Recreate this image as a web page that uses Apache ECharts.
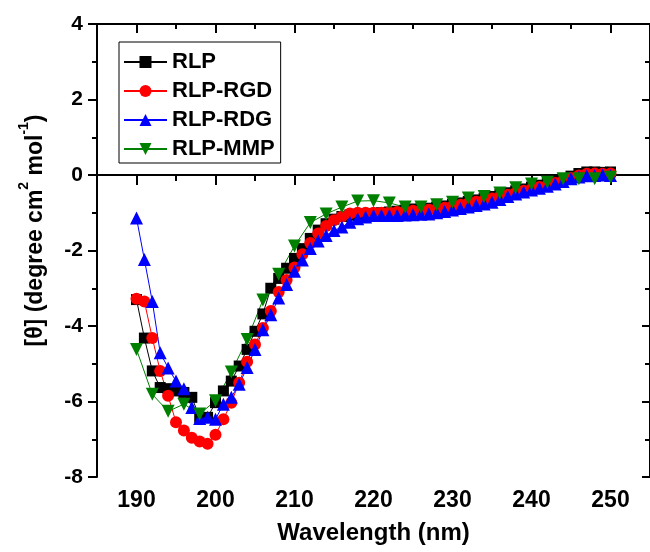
<!DOCTYPE html>
<html>
<head>
<meta charset="utf-8">
<script src="https://cdn.jsdelivr.net/npm/echarts@6/dist/echarts.min.js"></script>
<style>
html,body{margin:0;padding:0;background:#fff;overflow:hidden;}
#chart{width:650px;height:552px;}
</style>
</head>
<body>
<div id="chart"></div>
<script>
// ---- data ----
const wl1 = [190,191,192,193,194,195,196,197,198,199,200,201,202,203,204,205,206,207,208,209,210,211,212,213,214,215,216,217,218,219,220,221,222,223,224,225,226,227,228,229,230,231,232,233,234,235,236,237,238,239,240,241,242,243,244,245,246,247,248,249,250];
const wl2 = [190,192,194,196,198,200,202,204,206,208,210,212,214,216,218,220,222,224,226,228,230,232,234,236,238,240,242,244,246,248,250];
const rlp = [-3.30,-4.32,-5.19,-5.63,-5.66,-5.72,-5.76,-5.89,-6.42,-6.42,
  -6.03,-5.72,-5.46,-5.06,-4.62,-4.14,-3.68,-3.00,-2.74,-2.47,
  -2.21,-1.95,-1.68,-1.46,-1.29,-1.17,-1.10,-1.06,-1.04,-1.03,
  -1.02,-1.00,-0.98,-0.96,-0.93,-0.90,-0.90,-0.88,-0.85,-0.82,
  -0.78,-0.74,-0.70,-0.66,-0.62,-0.57,-0.52,-0.47,-0.42,-0.37,
  -0.32,-0.27,-0.22,-0.16,-0.10,-0.03,0.04,0.08,0.08,0.07,0.08];
const rgd = [-3.28,-3.35,-4.32,-5.19,-5.85,-6.55,-6.77,-6.96,-7.06,-7.12,
  -6.88,-6.47,-6.03,-5.50,-4.95,-4.49,-4.05,-3.60,-3.10,-2.78,
  -2.45,-2.10,-1.80,-1.55,-1.35,-1.20,-1.10,-1.02,-1.00,-1.00,
  -1.00,-1.00,-0.99,-0.98,-0.96,-0.95,-0.94,-0.92,-0.90,-0.87,
  -0.83,-0.79,-0.75,-0.71,-0.67,-0.62,-0.57,-0.52,-0.47,-0.42,
  -0.37,-0.32,-0.27,-0.21,-0.15,-0.08,-0.01,0.03,0.04,0.03,0.04];
const rdg = [-1.14,-2.24,-3.35,-4.71,-5.11,-5.46,-5.66,-6.16,-6.45,-6.42,
  -6.47,-6.07,-5.89,-5.54,-5.10,-4.62,-4.10,-3.70,-3.26,-2.90,
  -2.55,-2.25,-1.95,-1.75,-1.60,-1.47,-1.38,-1.25,-1.16,-1.11,
  -1.07,-1.07,-1.07,-1.07,-1.06,-1.05,-1.04,-1.03,-1.00,-0.97,
  -0.93,-0.89,-0.85,-0.81,-0.77,-0.72,-0.65,-0.57,-0.50,-0.45,
  -0.40,-0.35,-0.30,-0.24,-0.17,-0.10,-0.05,-0.02,-0.01,0.00,-0.01];
const mmp = [-4.62,-5.81,-6.26,-6.07,-6.33,-5.98,-5.22,-4.36,-3.31,-2.63,
  -1.88,-1.26,-1.03,-0.85,-0.69,-0.68,-0.74,-0.85,-0.85,-0.79,
  -0.72,-0.61,-0.57,-0.48,-0.34,-0.24,-0.19,-0.10,-0.10,-0.10,-0.06];
const seriesNames = ['RLP','RLP-RGD','RLP-RDG','RLP-MMP'];
const xMajorTicks = [190,200,210,220,230,240,250];
const xMinorTicks = [185,195,205,215,225,235,245,255];

// ---- chart ----
const FONT = '"Liberation Sans", Arial, Helvetica, sans-serif';
const zip = (xs, ys) => xs.map((x, i) => [x, ys[i]]);
const chart = echarts.init(document.getElementById('chart'), null, {renderer: 'canvas'});
const axLine = {show: true, lineStyle: {color: '#000', width: 2}};
const baseX = {type: 'value', min: 185, max: 255, gridIndex: 0, splitLine: {show: false}, axisLine: axLine};
const baseY = {type: 'value', min: -8, max: 4, interval: 2, gridIndex: 0, splitLine: {show: false}, axisLine: axLine};

function mkSeries(name, data, symbol, size, color, rot) {
  return {
    name: name, type: 'line', data: data, symbol: symbol, symbolSize: size,
    symbolRotate: rot || 0,
    showSymbol: true, showAllSymbol: true,
    lineStyle: {color: color, width: 1}, itemStyle: {color: color},
    xAxisIndex: 0, yAxisIndex: 0, animation: false, clip: false, z: 3
  };
}

chart.setOption({
  animation: false,
  backgroundColor: '#fff',
  grid: {left: 97, top: 24, width: 556, height: 456, containLabel: false},
  legend: {
    orient: 'vertical', left: 119, top: 42,
    data: seriesNames,
    itemWidth: 43, itemHeight: 15, itemGap: 7,
    padding: [9, 6, 3, 4],
    borderColor: '#000', borderWidth: 1,
    textStyle: {fontFamily: FONT, fontSize: 22, fontWeight: 'bold', color: '#000', lineHeight: 22}
  },
  xAxis: [
    Object.assign({}, baseX, {
      position: 'bottom',
      name: 'Wavelength (nm)', nameLocation: 'middle', nameGap: 42,
      nameTextStyle: {fontFamily: FONT, fontSize: 24, fontWeight: 'bold', color: '#000', lineHeight: 28},
      axisTick: {show: true, inside: false, length: 10, customValues: xMajorTicks, lineStyle: {color: '#000', width: 2}},
      axisLabel: {show: true, margin: 12, customValues: xMajorTicks, fontFamily: FONT, fontSize: 23, fontWeight: 'bold', color: '#000'}
    }),
    Object.assign({}, baseX, {
      position: 'bottom', axisLine: {show: false},
      axisTick: {show: true, inside: false, length: 6, customValues: xMinorTicks, lineStyle: {color: '#000', width: 2}},
      axisLabel: {show: false}
    }),
    Object.assign({}, baseX, {
      position: 'top',
      axisTick: {show: true, inside: true, length: 9, customValues: xMajorTicks, lineStyle: {color: '#000', width: 2}},
      axisLabel: {show: false}
    }),
    Object.assign({}, baseX, {
      position: 'top', axisLine: {show: false},
      axisTick: {show: true, inside: true, length: 5, customValues: xMinorTicks, lineStyle: {color: '#000', width: 2}},
      axisLabel: {show: false}
    })
  ],
  yAxis: [
    Object.assign({}, baseY, {
      position: 'left',
      name: '{a|[θ] (degree cm}{s|2}{a| mol}{s|-1}{a|)}',
      nameLocation: 'middle', nameGap: 42,
      nameTextStyle: {
        fontFamily: FONT, fontSize: 23, fontWeight: 'bold', color: '#000',
        padding: [0, 0, 0, 40],
        rich: {
          a: {fontFamily: FONT, fontSize: 23, fontWeight: 'bold', color: '#000', lineHeight: 38, verticalAlign: 'middle'},
          s: {fontFamily: FONT, fontSize: 14, fontWeight: 'bold', color: '#000', lineHeight: 14, verticalAlign: 'top'}
        }
      },
      axisTick: {show: true, inside: false, length: 9, lineStyle: {color: '#000', width: 2}},
      minorTick: {show: true, splitNumber: 2, length: 5, lineStyle: {color: '#000', width: 2}},
      axisLabel: {show: true, margin: 14, fontFamily: FONT, fontSize: 21, fontWeight: 'bold', color: '#000'}
    }),
    Object.assign({}, baseY, {
      position: 'right',
      axisTick: {show: true, inside: true, length: 8, lineStyle: {color: '#000', width: 2}},
      minorTick: {show: true, splitNumber: 2, length: 5, lineStyle: {color: '#000', width: 2}},
      axisLabel: {show: false}
    })
  ],
  series: [
    mkSeries('RLP', zip(wl1, rlp), 'rect', 11, '#000000'),
    mkSeries('RLP-RGD', zip(wl1, rgd), 'circle', 12, '#ff0000'),
    mkSeries('RLP-RDG', zip(wl1, rdg), 'triangle', 13, '#0000ff'),
    mkSeries('RLP-MMP', zip(wl2, mmp), 'triangle', 13, '#008000', 180)
  ]
});
</script>
</body>
</html>
